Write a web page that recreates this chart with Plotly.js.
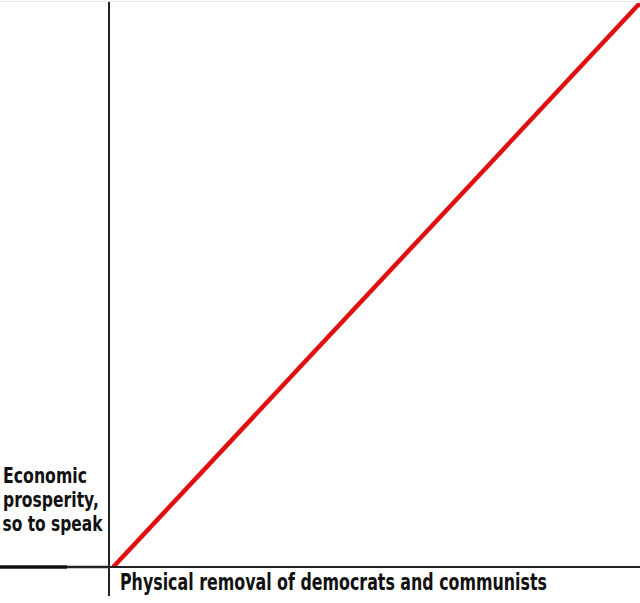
<!DOCTYPE html>
<html>
<head>
<meta charset="utf-8">
<script src="https://cdn.plot.ly/plotly-3.0.1.min.js"></script>
<style>
html,body{margin:0;padding:0;background:#fff;}
#chart{width:640px;height:603px;}
</style>
</head>
<body>
<div id="chart"></div>
<script>
// Data (abstract units)
const removal = [0, 10];      // x: Physical removal of democrats and communists
const prosperity = [0, 10];   // y: Economic prosperity, so to speak
const xLabel = "Physical removal of democrats and communists";
const yLabelLines = ["Economic", "prosperity,", "so to speak"];

const W = 640, H = 603;
const L = 109, T = 3, B = 36;
const pw = W - L, ph = H - T - B;
const px = p => (p - L) / pw;
const py = p => (H - B - p) / ph;

const FONT = '"DejaVu Sans", sans-serif';

const trace = {
  x: removal, y: prosperity, mode: 'lines', type: 'scatter',
  line: {color: 'rgb(224,16,16)', width: 4.5},
  hoverinfo: 'skip'
};

// label placement (pixel centre x, centre y, target width, font size)
const labelSpecs = [
  {text: yLabelLines[0], cx: 45, cy: 476, w: 84, size: 21},
  {text: yLabelLines[1], cx: 51, cy: 500, w: 96, size: 21},
  {text: yLabelLines[2], cx: 53, cy: 524, w: 100, size: 21},
  {text: xLabel, cx: 333.5, cy: 582, w: 427, size: 23}
];

const layout = {
  width: W, height: H,
  margin: {l: L, r: 0, t: T, b: B, pad: 0},
  paper_bgcolor: '#fff', plot_bgcolor: '#fff',
  showlegend: false,
  xaxis: {range: [-0.08, 10], visible: false, fixedrange: true},
  yaxis: {range: [0, 10], visible: false, fixedrange: true},
  shapes: [
    {type: 'line', xref: 'paper', yref: 'paper', x0: 0, x1: 0, y0: py(596), y1: py(2),
     line: {color: '#222', width: 2}},
    {type: 'line', xref: 'paper', yref: 'paper', x0: 0, x1: 1, y0: 0, y1: 0,
     line: {color: '#222', width: 2}},
    {type: 'line', xref: 'paper', yref: 'paper', x0: px(0), x1: px(67), y0: 0, y1: 0,
     line: {color: '#111', width: 3.5}},
    {type: 'line', xref: 'paper', yref: 'paper', x0: px(67), x1: 0, y0: 0, y1: 0,
     line: {color: '#222', width: 2.5}},
    {type: 'line', xref: 'paper', yref: 'paper', x0: px(0), x1: 1, y0: py(1.5), y1: py(1.5),
     line: {color: '#e6e6e6', width: 1}}
  ],
  annotations: labelSpecs.map(s => ({
    xref: 'paper', yref: 'paper', x: px(s.cx), y: py(s.cy),
    xanchor: 'center', yanchor: 'middle', text: s.text, showarrow: false,
    width: s.w + 8, align: 'center',
    font: {family: FONT, size: s.size, color: '#111', weight: 'bold'}
  }))
};

Plotly.newPlot('chart', [trace], layout, {displayModeBar: false, staticPlot: true}).then(gd => {
  const texts = gd.querySelectorAll('.annotation-text');
  texts.forEach((t, i) => {
    if (labelSpecs[i]) {
      t.setAttribute('textLength', labelSpecs[i].w);
      t.setAttribute('lengthAdjust', 'spacingAndGlyphs');
    }
  });
});
</script>
</body>
</html>
